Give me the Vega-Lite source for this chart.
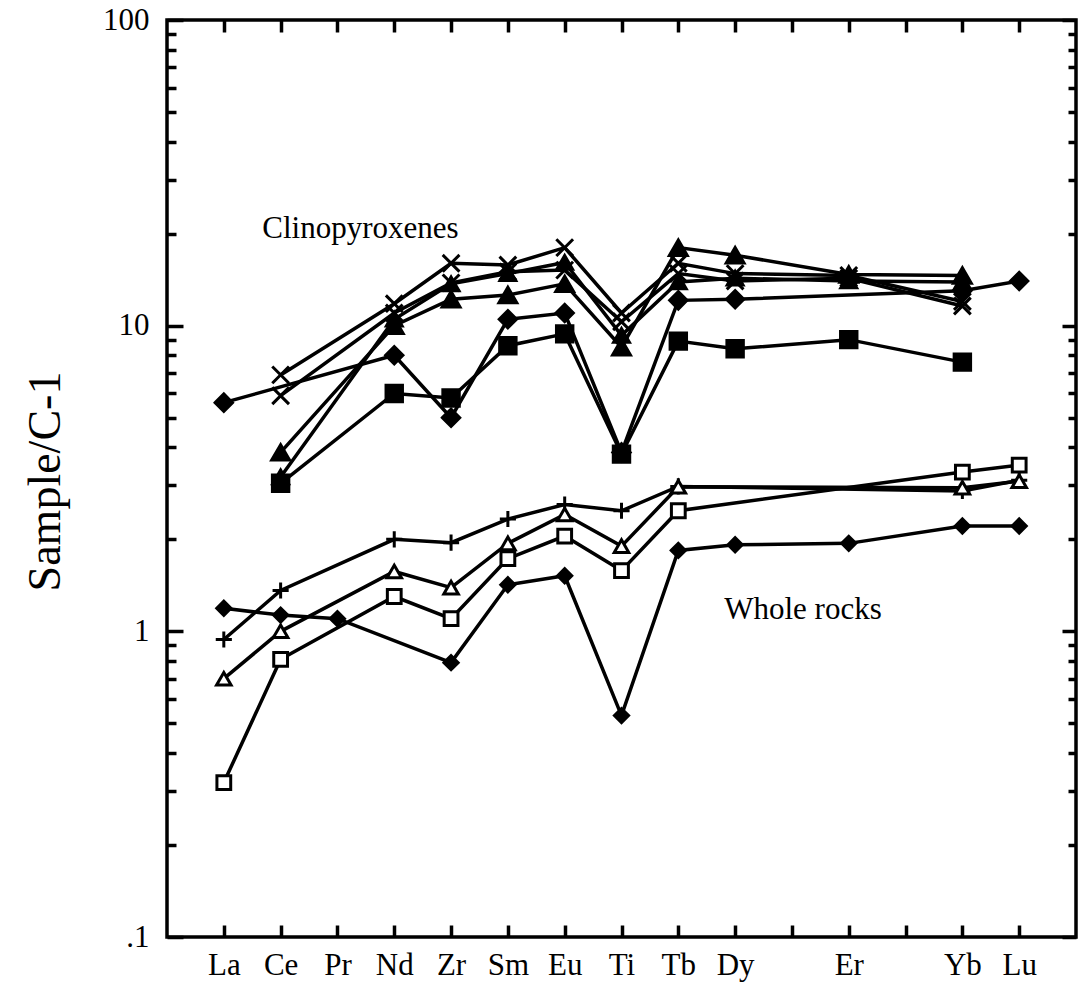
{
  "$schema": "https://vega.github.io/schema/vega-lite/v6.json",
  "width": 909,
  "height": 917,
  "autosize": {"type": "none"},
  "padding": {"left": 167, "top": 20, "right": 7, "bottom": 49},
  "background": "white",
  "config": {
    "view": {"stroke": "black", "strokeWidth": 3.5},
    "font": "Liberation Serif",
    "axis": {
      "domain": false,
      "grid": false,
      "tickColor": "black",
      "tickWidth": 3.5,
      "labelColor": "black",
      "labelFont": "Liberation Serif",
      "labelFontSize": 31,
      "labelOverlap": false,
      "labelFlush": false,
      "titleFont": "Liberation Serif",
      "titleColor": "black",
      "titleFontWeight": "normal"
    }
  },
  "datasets": {
    "samples": [
      {"s": "Cpx 1", "el": "Ce", "v": 6.9},
      {"s": "Cpx 1", "el": "Nd", "v": 11.8},
      {"s": "Cpx 1", "el": "Zr", "v": 16.0},
      {"s": "Cpx 1", "el": "Sm", "v": 15.8},
      {"s": "Cpx 1", "el": "Eu", "v": 18.0},
      {"s": "Cpx 1", "el": "Ti", "v": 11.0},
      {"s": "Cpx 1", "el": "Tb", "v": 16.0},
      {"s": "Cpx 1", "el": "Dy", "v": 14.8},
      {"s": "Cpx 1", "el": "Er", "v": 14.6},
      {"s": "Cpx 1", "el": "Yb", "v": 12.0},

      {"s": "Cpx 2", "el": "Ce", "v": 5.9},
      {"s": "Cpx 2", "el": "Nd", "v": 11.0},
      {"s": "Cpx 2", "el": "Zr", "v": 13.8},
      {"s": "Cpx 2", "el": "Sm", "v": 15.0},
      {"s": "Cpx 2", "el": "Eu", "v": 15.2},
      {"s": "Cpx 2", "el": "Ti", "v": 10.3},
      {"s": "Cpx 2", "el": "Tb", "v": 14.8},
      {"s": "Cpx 2", "el": "Dy", "v": 14.0},
      {"s": "Cpx 2", "el": "Er", "v": 14.3},
      {"s": "Cpx 2", "el": "Yb", "v": 11.6},

      {"s": "Cpx 3", "el": "Ce", "v": 3.85},
      {"s": "Cpx 3", "el": "Nd", "v": 10.0},
      {"s": "Cpx 3", "el": "Zr", "v": 12.2},
      {"s": "Cpx 3", "el": "Sm", "v": 12.6},
      {"s": "Cpx 3", "el": "Eu", "v": 13.7},
      {"s": "Cpx 3", "el": "Ti", "v": 8.5},
      {"s": "Cpx 3", "el": "Tb", "v": 18.0},
      {"s": "Cpx 3", "el": "Dy", "v": 17.0},
      {"s": "Cpx 3", "el": "Er", "v": 14.7},
      {"s": "Cpx 3", "el": "Yb", "v": 14.6},

      {"s": "Cpx 4", "el": "Ce", "v": 3.2},
      {"s": "Cpx 4", "el": "Nd", "v": 10.5},
      {"s": "Cpx 4", "el": "Zr", "v": 13.7},
      {"s": "Cpx 4", "el": "Sm", "v": 14.8},
      {"s": "Cpx 4", "el": "Eu", "v": 16.1},
      {"s": "Cpx 4", "el": "Ti", "v": 9.3},
      {"s": "Cpx 4", "el": "Tb", "v": 13.9},
      {"s": "Cpx 4", "el": "Dy", "v": 14.3},
      {"s": "Cpx 4", "el": "Er", "v": 14.0},
      {"s": "Cpx 4", "el": "Yb", "v": 13.9},

      {"s": "Cpx 5", "el": "La", "v": 5.6},
      {"s": "Cpx 5", "el": "Nd", "v": 8.0},
      {"s": "Cpx 5", "el": "Zr", "v": 5.0},
      {"s": "Cpx 5", "el": "Sm", "v": 10.5},
      {"s": "Cpx 5", "el": "Eu", "v": 11.0},
      {"s": "Cpx 5", "el": "Ti", "v": 3.85},
      {"s": "Cpx 5", "el": "Tb", "v": 12.1},
      {"s": "Cpx 5", "el": "Dy", "v": 12.2},
      {"s": "Cpx 5", "el": "Yb", "v": 13.0},
      {"s": "Cpx 5", "el": "Lu", "v": 14.0},

      {"s": "Cpx 6", "el": "Ce", "v": 3.05},
      {"s": "Cpx 6", "el": "Nd", "v": 6.0},
      {"s": "Cpx 6", "el": "Zr", "v": 5.8},
      {"s": "Cpx 6", "el": "Sm", "v": 8.6},
      {"s": "Cpx 6", "el": "Eu", "v": 9.4},
      {"s": "Cpx 6", "el": "Ti", "v": 3.8},
      {"s": "Cpx 6", "el": "Tb", "v": 8.9},
      {"s": "Cpx 6", "el": "Dy", "v": 8.4},
      {"s": "Cpx 6", "el": "Er", "v": 9.0},
      {"s": "Cpx 6", "el": "Yb", "v": 7.6},

      {"s": "WR 1", "el": "La", "v": 0.94},
      {"s": "WR 1", "el": "Ce", "v": 1.36},
      {"s": "WR 1", "el": "Nd", "v": 2.0},
      {"s": "WR 1", "el": "Zr", "v": 1.95},
      {"s": "WR 1", "el": "Sm", "v": 2.33},
      {"s": "WR 1", "el": "Eu", "v": 2.6},
      {"s": "WR 1", "el": "Ti", "v": 2.48},
      {"s": "WR 1", "el": "Tb", "v": 2.98},
      {"s": "WR 1", "el": "Yb", "v": 2.88},
      {"s": "WR 1", "el": "Lu", "v": 3.12},

      {"s": "WR 2", "el": "La", "v": 0.7},
      {"s": "WR 2", "el": "Ce", "v": 1.0},
      {"s": "WR 2", "el": "Nd", "v": 1.57},
      {"s": "WR 2", "el": "Zr", "v": 1.39},
      {"s": "WR 2", "el": "Sm", "v": 1.94},
      {"s": "WR 2", "el": "Eu", "v": 2.41},
      {"s": "WR 2", "el": "Ti", "v": 1.9},
      {"s": "WR 2", "el": "Tb", "v": 2.97},
      {"s": "WR 2", "el": "Yb", "v": 2.95},
      {"s": "WR 2", "el": "Lu", "v": 3.1},

      {"s": "WR 3", "el": "La", "v": 0.32},
      {"s": "WR 3", "el": "Ce", "v": 0.81},
      {"s": "WR 3", "el": "Nd", "v": 1.3},
      {"s": "WR 3", "el": "Zr", "v": 1.1},
      {"s": "WR 3", "el": "Sm", "v": 1.73},
      {"s": "WR 3", "el": "Eu", "v": 2.05},
      {"s": "WR 3", "el": "Ti", "v": 1.58},
      {"s": "WR 3", "el": "Tb", "v": 2.48},
      {"s": "WR 3", "el": "Yb", "v": 3.32},
      {"s": "WR 3", "el": "Lu", "v": 3.5},

      {"s": "WR 4", "el": "La", "v": 1.19},
      {"s": "WR 4", "el": "Ce", "v": 1.13},
      {"s": "WR 4", "el": "Pr", "v": 1.1},
      {"s": "WR 4", "el": "Zr", "v": 0.79},
      {"s": "WR 4", "el": "Sm", "v": 1.42},
      {"s": "WR 4", "el": "Eu", "v": 1.52},
      {"s": "WR 4", "el": "Ti", "v": 0.53},
      {"s": "WR 4", "el": "Tb", "v": 1.84},
      {"s": "WR 4", "el": "Dy", "v": 1.92},
      {"s": "WR 4", "el": "Er", "v": 1.94},
      {"s": "WR 4", "el": "Yb", "v": 2.21},
      {"s": "WR 4", "el": "Lu", "v": 2.21}
    ],
    "notes": [
      {"t": "Clinopyroxenes", "el": "Pr", "v": 19.4},
      {"t": "Whole rocks", "el": "Ho", "v": 1.1}
    ]
  },
  "layer": [
    {
      "data": {"name": "samples"},
      "mark": {"type": "line", "color": "black", "strokeWidth": 3.5},
      "encoding": {
        "x": {
          "field": "el",
          "type": "nominal",
          "sort": null,
          "scale": {"type": "point", "padding": 1, "domain": ["La", "Ce", "Pr", "Nd", "Zr", "Sm", "Eu", "Ti", "Tb", "Dy", "Ho", "Er", "Tm", "Yb", "Lu"]},
          "axis": {
            "orient": "bottom",
            "title": null,
            "labelAngle": 0,
            "tickSize": -12,
            "labelPadding": 25,
            "labelExpr": "datum.value == 'Ho' || datum.value == 'Tm' ? '' : datum.value"
          }
        },
        "y": {
          "field": "v",
          "type": "quantitative",
          "scale": {"type": "log", "domain": [0.1, 100], "nice": false},
          "axis": {
            "orient": "left",
            "title": "Sample/C-1",
            "titleFontSize": 46,
            "titleAngle": -90,
            "titleX": -122,
            "titleY": 461,
            "titleAlign": "center",
            "titleBaseline": "middle",
            "values": [0.1, 0.2, 0.3, 0.4, 0.5, 0.6, 0.7, 0.8, 0.9, 1, 2, 3, 4, 5, 6, 7, 8, 9, 10, 20, 30, 40, 50, 60, 70, 80, 90, 100],
            "tickSize": {"condition": {"test": "datum.value == 0.1 || datum.value == 1 || datum.value == 10 || datum.value == 100", "value": -16}, "value": -9},
            "labelPadding": 34,
            "labelExpr": "datum.value == 100 ? '100' : datum.value == 10 ? '10' : datum.value == 1 ? '1' : datum.value == 0.1 ? '.1' : ''"
          }
        },
        "detail": {"field": "s"},
        "order": {"value": null}
      }
    },
    {
      "data": {"name": "samples"},
      "mark": {"type": "point", "filled": true, "stroke": "black", "strokeWidth": 3, "opacity": 1},
      "encoding": {
        "x": {
          "field": "el",
          "type": "nominal",
          "sort": null,
          "scale": {"type": "point", "padding": 1, "domain": ["La", "Ce", "Pr", "Nd", "Zr", "Sm", "Eu", "Ti", "Tb", "Dy", "Ho", "Er", "Tm", "Yb", "Lu"]},
          "axis": {"orient": "top", "title": null, "labels": false, "tickSize": -12}
        },
        "y": {
          "field": "v",
          "type": "quantitative",
          "scale": {"type": "log", "domain": [0.1, 100], "nice": false},
          "axis": {
            "orient": "right",
            "title": null,
            "labels": false,
            "values": [0.1, 0.2, 0.3, 0.4, 0.5, 0.6, 0.7, 0.8, 0.9, 1, 2, 3, 4, 5, 6, 7, 8, 9, 10, 20, 30, 40, 50, 60, 70, 80, 90, 100],
            "tickSize": {"condition": {"test": "datum.value == 0.1 || datum.value == 1 || datum.value == 10 || datum.value == 100", "value": -14}, "value": -8}
          }
        },
        "shape": {
          "field": "s",
          "type": "nominal",
          "legend": null,
          "scale": {
            "domain": ["Cpx 1", "Cpx 2", "Cpx 3", "Cpx 4", "Cpx 5", "Cpx 6", "WR 1", "WR 2", "WR 3", "WR 4"],
            "range": ["M-1,-1L1,1M-1,1L1,-1", "M-1,-1L1,1M-1,1L1,-1", "triangle-up", "triangle-up", "diamond", "square", "M-1,0L1,0M0,-1L0,1", "triangle-up", "square", "diamond"]
          }
        },
        "fill": {
          "field": "s",
          "type": "nominal",
          "legend": null,
          "scale": {
            "domain": ["Cpx 1", "Cpx 2", "Cpx 3", "Cpx 4", "Cpx 5", "Cpx 6", "WR 1", "WR 2", "WR 3", "WR 4"],
            "range": ["black", "black", "black", "black", "black", "black", "white", "white", "white", "black"]
          }
        },
        "size": {
          "field": "s",
          "type": "ordinal",
          "legend": null,
          "scale": {
            "type": "ordinal",
            "domain": ["Cpx 1", "Cpx 2", "Cpx 3", "Cpx 4", "Cpx 5", "Cpx 6", "WR 1", "WR 2", "WR 3", "WR 4"],
            "range": [280, 280, 320, 250, 300, 270, 260, 210, 190, 200]
          }
        }
      }
    },
    {
      "data": {"name": "notes"},
      "transform": [{"filter": "datum.el == 'Pr'"}],
      "mark": {"type": "text", "font": "Liberation Serif", "fontSize": 31, "align": "center", "baseline": "alphabetic", "dx": 23, "color": "black"},
      "encoding": {
        "x": {"field": "el", "type": "nominal", "sort": null, "scale": {"type": "point", "padding": 1, "domain": ["La", "Ce", "Pr", "Nd", "Zr", "Sm", "Eu", "Ti", "Tb", "Dy", "Ho", "Er", "Tm", "Yb", "Lu"]}, "axis": null},
        "y": {"field": "v", "type": "quantitative", "scale": {"type": "log", "domain": [0.1, 100], "nice": false}, "axis": null},
        "text": {"field": "t"}
      }
    },
    {
      "data": {"name": "notes"},
      "transform": [{"filter": "datum.el == 'Ho'"}],
      "mark": {"type": "text", "font": "Liberation Serif", "fontSize": 31, "align": "center", "baseline": "alphabetic", "dx": 11, "color": "black"},
      "encoding": {
        "x": {"field": "el", "type": "nominal", "sort": null, "scale": {"type": "point", "padding": 1, "domain": ["La", "Ce", "Pr", "Nd", "Zr", "Sm", "Eu", "Ti", "Tb", "Dy", "Ho", "Er", "Tm", "Yb", "Lu"]}, "axis": null},
        "y": {"field": "v", "type": "quantitative", "scale": {"type": "log", "domain": [0.1, 100], "nice": false}, "axis": null},
        "text": {"field": "t"}
      }
    }
  ],
  "resolve": {"axis": {"x": "independent", "y": "independent"}}
}
